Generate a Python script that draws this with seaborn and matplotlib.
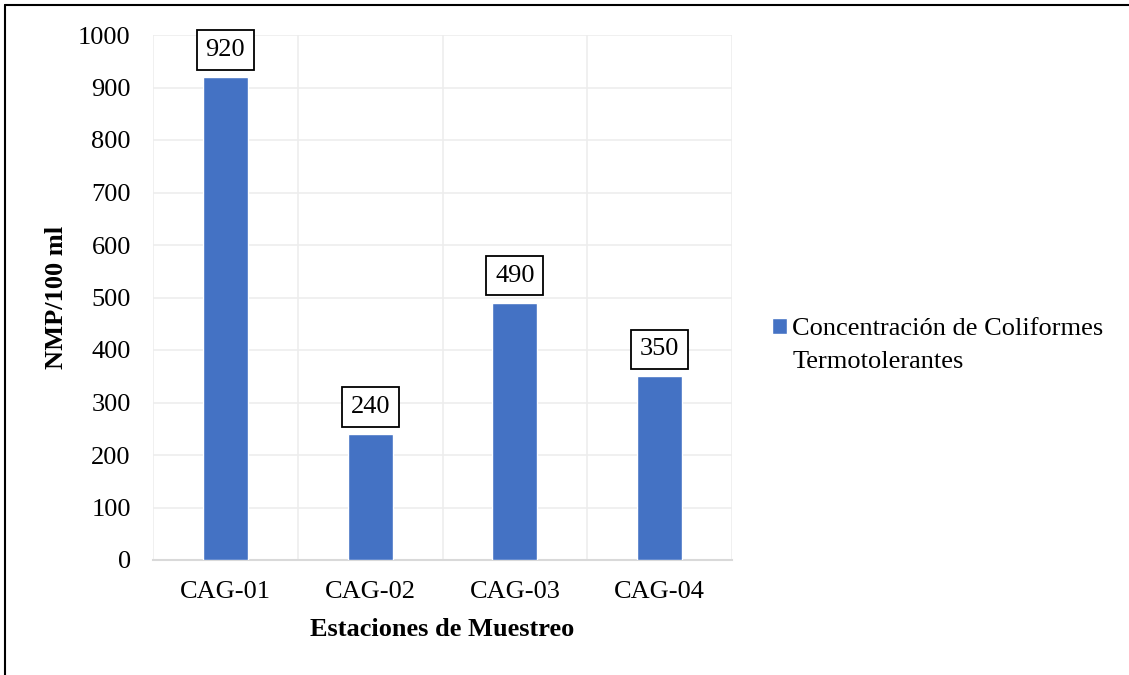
import matplotlib.pyplot as plt
import matplotlib.lines as mlines
import matplotlib.patches as mpatches
import seaborn as sns

# data
estaciones = ['CAG-01', 'CAG-02', 'CAG-03', 'CAG-04']
nmp = [920, 240, 490, 350]
serie = ['Concentración de Coliformes', 'Termotolerantes']

sns.set_style('white')
plt.rcParams['font.family'] = ['Liberation Serif', 'DejaVu Serif']
plt.rcParams['text.color'] = 'black'
plt.rcParams['axes.labelcolor'] = 'black'
plt.rcParams['xtick.color'] = 'black'
plt.rcParams['ytick.color'] = 'black'

fig = plt.figure(figsize=(11.29, 6.75), dpi=100)
ax = fig.add_axes([153 / 1129, 1 - 560 / 675, (732 - 153) / 1129, (560 - 35) / 675])

sns.barplot(x=estaciones, y=nmp, color='#4472C4', width=0.31, label=serie[0],
            saturation=1, ax=ax, zorder=3)

ax.set_ylim(0, 1000)
ax.set_xlim(-0.5, 3.5)
ax.set_yticks(range(0, 1001, 100))
ax.set_xticks([-0.5, 0.5, 1.5, 2.5, 3.5], minor=True)
ax.grid(True, which='major', axis='y', color='#EDEDED', lw=1.2, zorder=0)
ax.grid(True, which='minor', axis='x', color='#EDEDED', lw=1.2, zorder=0)
ax.tick_params(axis='both', which='both', length=0, labelsize=19)
ax.tick_params(axis='y', pad=16)
ax.tick_params(axis='x', pad=15)
for s in ['top', 'right', 'left']:
    ax.spines[s].set_visible(False)
ax.spines['bottom'].set_color('#D9D9D9')
ax.spines['bottom'].set_linewidth(1.5)

ax.bar_label(ax.containers[0], padding=11.5, fontsize=19,
             bbox=dict(boxstyle='square,pad=0.33', fc='white', ec='black', lw=1.3))

ax.set_xlabel('Estaciones de Muestreo', fontsize=19, fontweight='bold', labelpad=11)
ax.set_ylabel('NMP/100 ml', fontsize=19, fontweight='bold', labelpad=7)

# legend: handle aligned with first line of the series name
h = ax.containers[0].patches[0]
blank = mpatches.Patch(color='none')
ax.legend([h, blank], serie, loc='upper left', bbox_to_anchor=((772 - 153) / 579, (560 - 318) / 525),
          frameon=False, borderpad=0, borderaxespad=0,
          fontsize=19, handlelength=0.55, handleheight=0.55, handletextpad=0.22,
          labelspacing=0.38)

# outer frame (top and left edges only visible)
fig.add_artist(mlines.Line2D([5 / 1129, 1], [1 - 5 / 675, 1 - 5 / 675], color='black', lw=1.5))
fig.add_artist(mlines.Line2D([5 / 1129, 5 / 1129], [0, 1 - 5 / 675], color='black', lw=1.5))

fig.savefig('out.png', dpi=100)
